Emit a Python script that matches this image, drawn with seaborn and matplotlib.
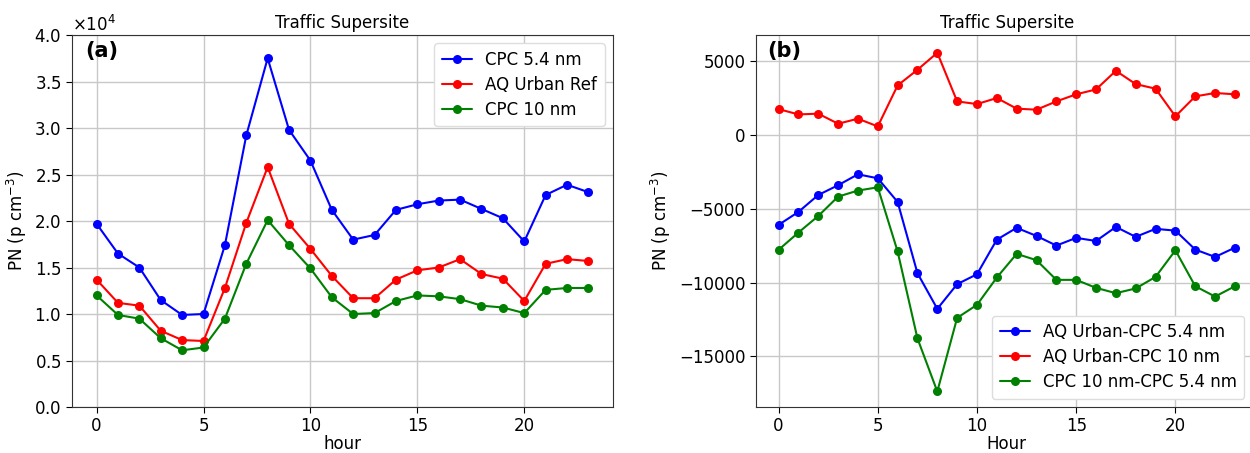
import numpy as np
import pandas as pd
import matplotlib
matplotlib.use("Agg")
import matplotlib.pyplot as plt
import seaborn as sns

hours = list(range(24))

# Panel (a) values in units of 1e4 p cm^-3
cpc54 = [1.97, 1.65, 1.50, 1.15, 0.99, 1.00, 1.74, 2.92, 3.75, 2.98, 2.65, 2.12,
         1.80, 1.85, 2.12, 2.18, 2.22, 2.23, 2.13, 2.03, 1.78, 2.28, 2.39, 2.31]
aq_ref = [1.37, 1.12, 1.09, 0.82, 0.72, 0.71, 1.28, 1.98, 2.58, 1.97, 1.70, 1.41,
          1.17, 1.17, 1.37, 1.47, 1.50, 1.59, 1.43, 1.38, 1.14, 1.54, 1.59, 1.57]
cpc10 = [1.20, 0.99, 0.95, 0.74, 0.61, 0.64, 0.95, 1.54, 2.01, 1.74, 1.49, 1.18,
         1.00, 1.01, 1.14, 1.20, 1.19, 1.16, 1.09, 1.07, 1.01, 1.26, 1.28, 1.28]
labels_a = ["CPC 5.4 nm", "AQ Urban Ref", "CPC 10 nm"]

# Panel (b) differences, p cm^-3
diff_aq_54 = [-6100, -5225, -4080, -3420, -2680, -2950, -4550, -9370, -11780, -10110,
              -9440, -7100, -6300, -6850, -7500, -6980, -7190, -6240, -6910, -6370,
              -6490, -7770, -8270, -7640]
diff_aq_10 = [1730, 1370, 1420, 740, 1080, 560, 3330, 4390, 5540, 2250, 2070, 2480,
              1760, 1690, 2250, 2730, 3060, 4320, 3420, 3110, 1240, 2590, 2820, 2730]
diff_10_54 = [-7790, -6620, -5500, -4190, -3780, -3560, -7900, -13780, -17370, -12390,
              -11510, -9660, -8060, -8490, -9820, -9820, -10360, -10720, -10400, -9620,
              -7820, -10250, -10950, -10250]
labels_b = ["AQ Urban-CPC 5.4 nm", "AQ Urban-CPC 10 nm", "CPC 10 nm-CPC 5.4 nm"]

colors = ["blue", "red", "green"]

sns.set_style("ticks")
plt.rcParams['font.family'] = ['DejaVu Sans']
plt.rcParams.update({"text.color": "black", "axes.labelcolor": "black",
                     "xtick.color": "black", "ytick.color": "black"})

fig = plt.figure(figsize=(12.5, 4.53), dpi=100)
ax1 = fig.add_axes([0.0576, 0.1015, 0.4328, 0.8212])
ax2 = fig.add_axes([0.6046, 0.1015, 0.4016, 0.8212])

df_a = pd.DataFrame({
    "hour": hours * 3,
    "PN": np.concatenate([np.array(cpc54), np.array(aq_ref), np.array(cpc10)]) * 1e4,
    "series": sum([[l] * 24 for l in labels_a], []),
})
df_b = pd.DataFrame({
    "hour": hours * 3,
    "PN": np.concatenate([diff_aq_54, diff_aq_10, diff_10_54]),
    "series": sum([[l] * 24 for l in labels_b], []),
})

for ax, df, labs in [(ax1, df_a, labels_a), (ax2, df_b, labels_b)]:
    sns.lineplot(data=df, x="hour", y="PN", hue="series", hue_order=labs,
                 palette=colors, marker="o", markersize=6.5, markeredgewidth=0,
                 linewidth=1.5, ax=ax)
    ax.grid(True, color="#c8c8c8", linewidth=1)
    ax.set_axisbelow(True)
    ax.tick_params(labelsize=12, length=4)
    for s in ax.spines.values():
        s.set_color("#333333")
    ax.set_title("Traffic Supersite", fontsize=12, pad=5)
    ax.set_ylabel("PN (p cm$^{-3}$)", fontsize=12)
    ax.set_xticks([0, 5, 10, 15, 20])
    ax.set_xlim(-1.15, 24.15)

ax1.set_xlabel("hour", fontsize=12, labelpad=0)
ax2.set_xlabel("Hour", fontsize=12, labelpad=0)

ax1.set_ylim(0, 40000)
ax1.set_yticks(np.arange(0, 40001, 5000))
ax1.ticklabel_format(axis="y", style="sci", scilimits=(0, 0), useMathText=True)
ax1.yaxis.get_offset_text().set_fontsize(12)

ax2.set_ylim(-18420, 6740)
ax2.set_yticks([-15000, -10000, -5000, 0, 5000])

ax1.legend(loc="upper right", fontsize=12, framealpha=1, edgecolor="#dddddd",
           handlelength=1.8, labelspacing=0.42, borderpad=0.45)
ax2.legend(loc="lower right", fontsize=12, framealpha=1, edgecolor="#dddddd",
           handlelength=1.8, labelspacing=0.42, borderpad=0.45,
           bbox_to_anchor=(0.99, 0.0))

ax1.text(0.024, 0.985, "(a)", transform=ax1.transAxes, fontsize=15,
         fontweight="bold", va="top", ha="left")
ax2.text(0.022, 0.985, "(b)", transform=ax2.transAxes, fontsize=15,
         fontweight="bold", va="top", ha="left")

fig.savefig("out.png", dpi=100)
